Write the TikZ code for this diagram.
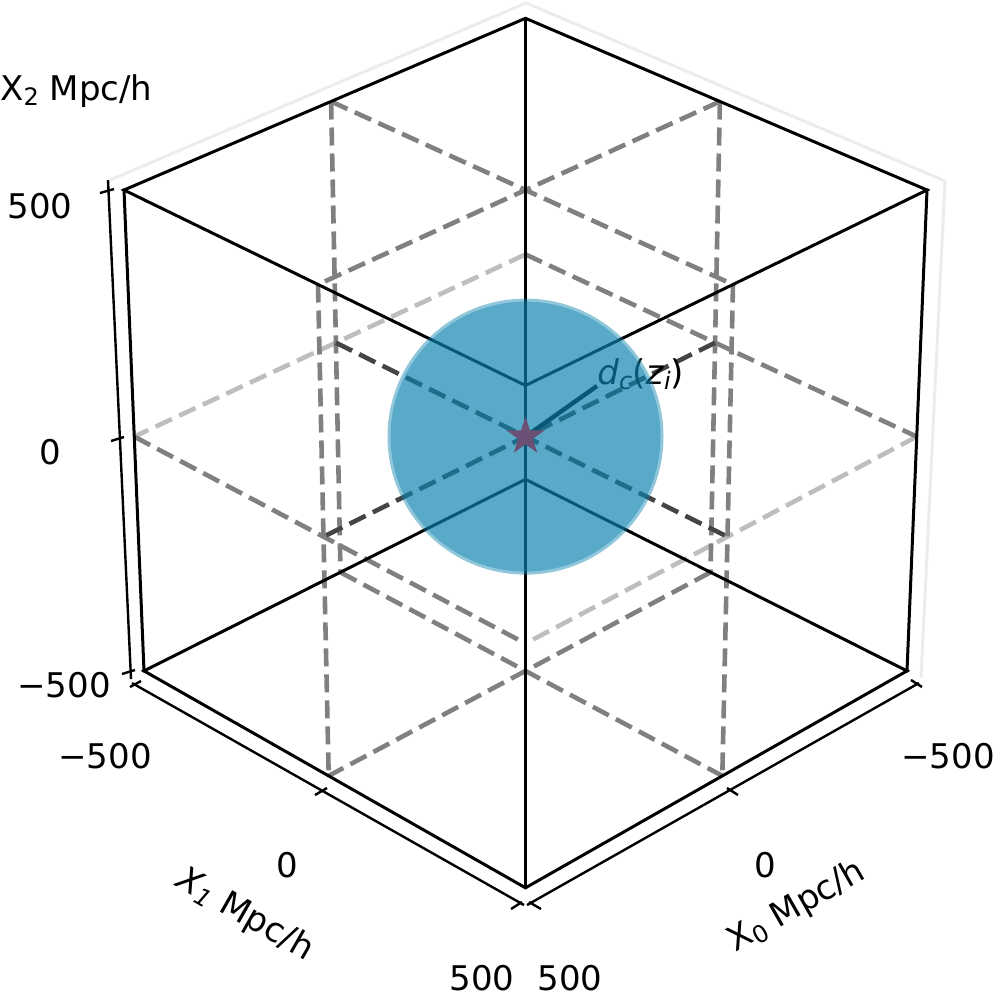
\documentclass[tikz,border=0pt]{standalone}
\usepackage{fontspec}
\setmainfont{DejaVu Sans}[ItalicFont={DejaVu Sans Oblique}]
\usetikzlibrary{shapes.geometric}
\definecolor{gdark}{RGB}{68,68,68}
\definecolor{gmid}{RGB}{128,128,128}
\definecolor{glight}{RGB}{190,190,190}
\definecolor{panec}{RGB}{236,236,236}
\definecolor{sph}{RGB}{12,130,174}
\definecolor{starc}{RGB}{106,80,116}
\newcommand\subx[1]{\raisebox{-2.5pt}{\fontsize{12}{12}\selectfont #1}}
\begin{document}
\begin{tikzpicture}[x=0.5pt,y=-0.5pt,
  edge/.style={line width=1.5pt, draw=black, line cap=rect},
  dsh/.style={line width=2.3pt, dash pattern=on 9pt off 4pt},
  dkd/.style={dsh, draw=gdark},
  mdd/.style={dsh, draw=gmid},
  ltd/.style={dsh, draw=glight},
  axl/.style={line width=1.2pt, draw=black},
  tck/.style={line width=1.2pt, draw=black},
  lab/.style={font=\fontsize{17}{20}\selectfont, inner sep=0pt},
  pane/.style={line width=1.5pt, draw=panec, line join=round}]
\useasboundingbox (0,0) rectangle (996,993);
% lattice points (X0,X1,X2) in {-1,0,1}: m=-1, o=0, p=+1
\coordinate (Pmmp) at (525.5,18.3);
\coordinate (Pmmo) at (525.5,254.4);
\coordinate (Pmmm) at (525.5,479.3);
\coordinate (Pmop) at (719.9,101.5);
\coordinate (Pmoo) at (715.1,342.7);
\coordinate (Pmom) at (710.5,572.3);
\coordinate (Pomp) at (331.1,101.5);
\coordinate (Pomo) at (335.9,342.7);
\coordinate (Pomm) at (340.5,572.3);
\coordinate (Poop) at (525.5,190.0);
\coordinate (Pooo) at (525.5,436.6);
\coordinate (Poom) at (525.5,670.9);
\coordinate (Ppmp) at (124.0,190.0);
\coordinate (Ppmo) at (134.2,436.6);
\coordinate (Ppmm) at (144.0,670.9);
\coordinate (Pmpp) at (927.0,190.0);
\coordinate (Pmpo) at (916.8,436.6);
\coordinate (Pmpm) at (907.0,670.9);
\coordinate (Ppop) at (318.0,284.5);
\coordinate (Ppoo) at (323.5,536.7);
\coordinate (Ppom) at (328.7,775.8);
\coordinate (Popp) at (733.0,284.5);
\coordinate (Popo) at (727.5,536.7);
\coordinate (Popm) at (722.3,775.8);
\coordinate (Pppp) at (525.5,385.5);
\coordinate (Pppo) at (525.5,643.5);
\coordinate (Pppm) at (525.5,887.8);
% pane edges
\coordinate (Q1) at (110,180);
\coordinate (Q2) at (526,3);
\coordinate (Q3) at (945,181);
\coordinate (Q4) at (921,678);
\draw[pane] (Q1) -- (Q2) -- (Q3) -- (Q4);
% axis lines
\coordinate (Za) at (108,180);
\coordinate (Zb) at (131,679);
\coordinate (Xa) at (132,683);
\coordinate (Xb) at (524,905);
\coordinate (Ya) at (527,905);
\coordinate (Yb) at (919,683);
\draw[axl] (Za) -- (Zb);
\draw[axl] (Xa) -- (Xb);
\draw[axl] (Ya) -- (Yb);
% ticks
\coordinate (zt1a) at (100,193); \coordinate (zt1b) at (114,189);
\coordinate (zt2a) at (111,441); \coordinate (zt2b) at (124,437);
\coordinate (zt3a) at (122,674); \coordinate (zt3b) at (135,670);
\draw[tck] (zt1a) -- (zt1b);
\draw[tck] (zt2a) -- (zt2b);
\draw[tck] (zt3a) -- (zt3b);
\coordinate (xt1a) at (130,687); \coordinate (xt1b) at (141,681);
\coordinate (xt2a) at (315,795); \coordinate (xt2b) at (327,788);
\coordinate (xt3a) at (511,909); \coordinate (xt3b) at (522,902);
\draw[tck] (xt1a) -- (xt1b);
\draw[tck] (xt2a) -- (xt2b);
\draw[tck] (xt3a) -- (xt3b);
\coordinate (yt1a) at (529,902); \coordinate (yt1b) at (541,909);
\coordinate (yt2a) at (727,788); \coordinate (yt2b) at (738,795);
\coordinate (yt3a) at (911,680); \coordinate (yt3b) at (922,687);
\draw[tck] (yt1a) -- (yt1b);
\draw[tck] (yt2a) -- (yt2b);
\draw[tck] (yt3a) -- (yt3b);
% dashed sub-box lines
\draw[ltd] (Pmmo) -- (Ppmo);
\draw[ltd] (Pmpo) -- (Pppo);
\draw[mdd] (Pomp) -- (Pomm);
\draw[mdd] (Ppop) -- (Ppom);
\draw[mdd] (Pmop) -- (Pmom);
\draw[mdd] (Popp) -- (Popm);
\draw[mdd] (Pmop) -- (Ppop);
\draw[mdd] (Pomp) -- (Popp);
\draw[mdd] (Pmom) -- (Ppom);
\draw[mdd] (Pomm) -- (Popm);
\draw[mdd] (Ppmo) -- (Pppo);
\draw[mdd] (Pmmo) -- (Pmpo);
\draw[dkd] (Pmoo) -- (Ppoo);
\draw[dkd] (Pomo) -- (Popo);
% cube edges
\draw[edge] (Ppmp) -- (Pmmp) -- (Pmpp) -- (Pppp) -- cycle;
\draw[edge] (Ppmm) -- (Pmmm) -- (Pmpm) -- (Pppm) -- cycle;
\draw[edge] (Ppmp) -- (Ppmm);
\draw[edge] (Pmpp) -- (Pmpm);
\draw[edge] (Pppp) -- (Pppm);
\draw[edge] (Pmmp) -- (Pmmm);
% radius and its label
\coordinate (rad) at (597,386);
\draw[line width=2.2pt] (Pooo) -- (rad);
\node[lab, anchor=base west] (dlab) at (597,384) {\textit{d}\subx{\textit{c}}(\textit{z}\subx{\textit{i}})};
% sphere
\fill[sph, fill opacity=0.45] (Pooo) circle[radius=138];
\fill[sph, fill opacity=0.42] (Pooo) circle[radius=135];
% star
\node[star, star points=5, star point ratio=2.618, fill=starc, draw=none, minimum size=20pt, inner sep=0pt] (st) at (Pooo) {};
% tick labels
\node[lab] (t2a) at (40,206) {500};
\node[lab] (t2b) at (50,452) {0};
\node[lab] (t2c) at (64,685) {−500};
\node[lab] (t1a) at (105,756) {−500};
\node[lab] (t1b) at (287,865) {0};
\node[lab] (t1c) at (482,978) {500};
\node[lab] (t0a) at (570,978) {500};
\node[lab] (t0b) at (765,865) {0};
\node[lab] (t0c) at (948,756) {−500};
% axis labels
\node[lab, anchor=base west] (ax2) at (0,100) {X\subx{2} Mpc/h};
\node[lab, rotate=-29.8] (ax1) at (245,915) {\textit{X}\subx{\textit{1}} Mpc/h};
\node[lab, rotate=29.8] (ax0) at (797,907) {X\subx{0} Mpc/h};
\end{tikzpicture}
\end{document}
